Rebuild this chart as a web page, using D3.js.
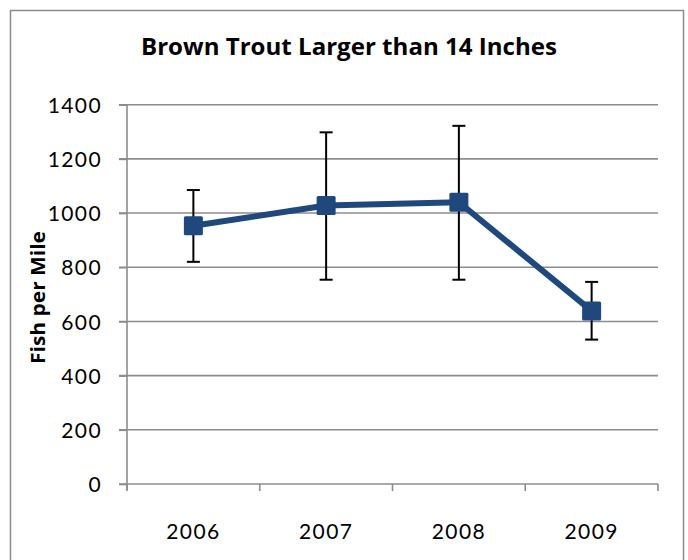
<!DOCTYPE html>
<html><head><meta charset="utf-8">
<script src="https://cdn.jsdelivr.net/npm/d3@7"></script>
<style>body{margin:0;background:#fff;} svg{display:block;}</style>
</head><body>
<script>
const years = ["2006", "2007", "2008", "2009"];
const fishPerMile = [953, 1028, 1040, 639];
const errLow = [820, 754, 754, 533];
const errHigh = [1085, 1298, 1322, 746];
const yTicks = [0, 200, 400, 600, 800, 1000, 1200, 1400];
const title = "Brown Trout Larger than 14 Inches";
const yTitle = "Fish per Mile";

(function () {
const W = 688, H = 560;
const svg = d3.select("body").append("svg").attr("width", W).attr("height", H);
const font = "'Open Sans', 'DejaVu Sans', sans-serif";
const tickFont = "Lato, 'Open Sans', sans-serif";
const gridColor = "#8c8c8c";
const seriesColor = "#1f497d";

svg.append("rect").attr("x", 10.5).attr("y", 10.5).attr("width", 673).attr("height", 570)
  .attr("fill", "#fff").attr("stroke", gridColor).attr("stroke-width", 1.5);

const pLeft = 127, pRight = 658, pTop = 104.7, pBottom = 484;
const x = d3.scaleBand().domain(years).range([pLeft, pRight]).padding(0);
const y = d3.scaleLinear().domain([0, 1400]).range([pBottom, pTop]);

// gridlines
svg.append("g").selectAll("line").data(yTicks.filter(d => d > 0)).join("line")
  .attr("x1", pLeft - 8).attr("x2", pRight)
  .attr("y1", d => y(d)).attr("y2", d => y(d))
  .attr("stroke", gridColor).attr("stroke-width", 1.6);

// y axis
const yAxis = svg.append("g").attr("transform", `translate(${pLeft},0)`)
  .call(d3.axisLeft(y).tickValues(yTicks).tickSize(8).tickPadding(17).tickFormat(d3.format("d")));
yAxis.select(".domain").attr("stroke", gridColor).attr("stroke-width", 1.6)
  .attr("d", `M0,${pTop}V${pBottom + 6}`);
yAxis.selectAll(".tick line").attr("stroke", gridColor).attr("stroke-width", 1.6);
yAxis.selectAll(".tick text").attr("font-family", tickFont).attr("font-size", 21)
  .attr("letter-spacing", 1.4).attr("fill", "#000").attr("dy", "0.36em");

// x axis
const xAxis = svg.append("g").attr("transform", `translate(0,${pBottom})`)
  .call(d3.axisBottom(x).tickSize(0).tickPadding(40));
xAxis.select(".domain").attr("stroke", gridColor).attr("stroke-width", 1.6)
  .attr("d", `M${pLeft - 8},0H${pRight}`);
xAxis.selectAll(".tick text").attr("font-family", tickFont).attr("font-size", 21)
  .attr("letter-spacing", 1.4).attr("fill", "#000");
const bounds = years.map(d => x(d)).concat([pRight]);
xAxis.append("g").selectAll("line").data(bounds).join("line")
  .attr("x1", d => d).attr("x2", d => d).attr("y1", 0).attr("y2", 7)
  .attr("stroke", gridColor).attr("stroke-width", 1.6);

const cx = d => x(d) + x.bandwidth() / 2;

// error bars
const eb = svg.append("g").attr("stroke", "#000").attr("stroke-width", 2);
years.forEach((yr, i) => {
  const c = cx(yr);
  eb.append("line").attr("x1", c).attr("x2", c).attr("y1", y(errLow[i])).attr("y2", y(errHigh[i]));
  eb.append("line").attr("x1", c - 6.5).attr("x2", c + 6.5).attr("y1", y(errLow[i])).attr("y2", y(errLow[i]));
  eb.append("line").attr("x1", c - 6.5).attr("x2", c + 6.5).attr("y1", y(errHigh[i])).attr("y2", y(errHigh[i]));
});

// line
const line = d3.line().x((d, i) => cx(years[i])).y(d => y(d));
svg.append("path").datum(fishPerMile).attr("d", line)
  .attr("fill", "none").attr("stroke", seriesColor).attr("stroke-width", 6)
  .attr("stroke-linejoin", "round");

// markers
svg.append("g").selectAll("rect").data(fishPerMile).join("rect")
  .attr("x", (d, i) => cx(years[i]) - 9.5).attr("y", d => y(d) - 9.5)
  .attr("width", 19).attr("height", 19).attr("rx", 1.5)
  .attr("fill", seriesColor);

// title
svg.append("text").attr("x", 349).attr("y", 55).attr("text-anchor", "middle")
  .attr("font-family", font).attr("font-weight", "bold").attr("font-size", 24)
  .attr("textLength", 416).attr("lengthAdjust", "spacingAndGlyphs")
  .attr("fill", "#000").text(title);

// y title
svg.append("text").attr("transform", "translate(45,297.5) rotate(-90)")
  .attr("text-anchor", "middle").attr("font-family", font).attr("font-weight", "bold")
  .attr("font-size", 19).attr("textLength", 133).attr("lengthAdjust", "spacingAndGlyphs")
  .attr("fill", "#000").text(yTitle);
})();
</script>
</body></html>
